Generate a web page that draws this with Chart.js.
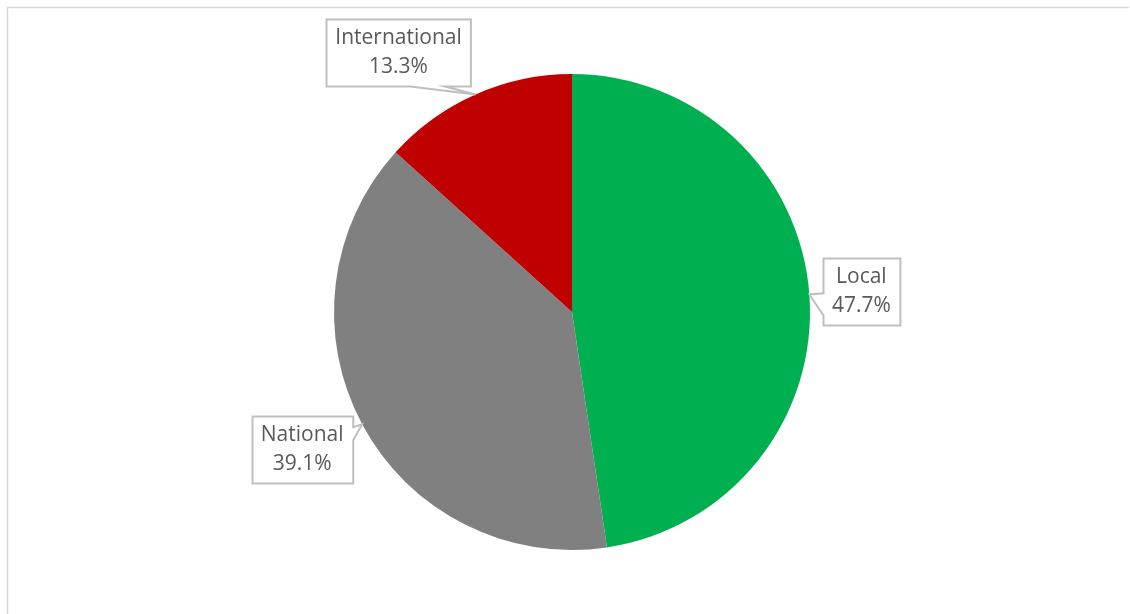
<!DOCTYPE html>
<html>
<head>
<meta charset="utf-8">
<script src="https://cdn.jsdelivr.net/npm/chart.js@4/dist/chart.umd.min.js"></script>
<style>
    html, body { margin: 0; padding: 0; background: #fff; }
    #wrap { width: 1130px; height: 614px; position: relative; }
</style>
</head>
<body>
<div id="wrap"><canvas id="chart"></canvas></div>
<script>
const categories = ['Local', 'National', 'International'];
const shares = [47.7, 39.1, 13.3];

const sliceColors = ['#00B050', '#808080', '#C00000'];

// callout placement per slice: box centre offset from the arc tip, side the pointer leaves from,
// and where along that side the pointer base sits (fractions)
const callouts = [
    { dx: 52, dy: -3, side: 'left', base: [0.52, 0.85] },
    { dx: -60, dy: 25, side: 'right', base: [0.16, 0.35] },
    { dx: -77, dy: -42, side: 'bottom', base: [0.58, 0.82] }
];

const labelFont = '21px "Open Sans", Lato, sans-serif';

const framePlugin = {
    id: 'frame',
    beforeDraw(chart) {
        const ctx = chart.ctx;
        ctx.save();
        ctx.strokeStyle = '#d9d9d9';
        ctx.lineWidth = 1.5;
        ctx.beginPath();
        ctx.moveTo(7.5, chart.height);
        ctx.lineTo(7.5, 7.5);
        ctx.lineTo(1129, 7.5);
        ctx.stroke();
        ctx.restore();
    }
};

function calloutPath(ctx, x0, y0, w, h, tip, c) {
    const x1 = x0 + w, y1 = y0 + h;
    ctx.beginPath();
    ctx.moveTo(x0, y0);
    if (c.side === 'top') {
        ctx.lineTo(x0 + w * c.base[0], y0);
        ctx.lineTo(tip.x, tip.y);
        ctx.lineTo(x0 + w * c.base[1], y0);
    }
    ctx.lineTo(x1, y0);
    if (c.side === 'right') {
        ctx.lineTo(x1, y0 + h * c.base[0]);
        ctx.lineTo(tip.x, tip.y);
        ctx.lineTo(x1, y0 + h * c.base[1]);
    }
    ctx.lineTo(x1, y1);
    if (c.side === 'bottom') {
        ctx.lineTo(x0 + w * c.base[1], y1);
        ctx.lineTo(tip.x, tip.y);
        ctx.lineTo(x0 + w * c.base[0], y1);
    }
    ctx.lineTo(x0, y1);
    if (c.side === 'left') {
        ctx.lineTo(x0, y0 + h * c.base[1]);
        ctx.lineTo(tip.x, tip.y);
        ctx.lineTo(x0, y0 + h * c.base[0]);
    }
    ctx.closePath();
}

const calloutPlugin = {
    id: 'callouts',
    afterDatasetsDraw(chart) {
        const ctx = chart.ctx;
        const meta = chart.getDatasetMeta(0);
        ctx.save();
        ctx.font = labelFont;
        meta.data.forEach((arc, i) => {
            const p = arc.getProps(['x', 'y', 'startAngle', 'endAngle', 'outerRadius'], true);
            const mid = (p.startAngle + p.endAngle) / 2;
            const tip = {
                x: p.x + Math.cos(mid) * p.outerRadius,
                y: p.y + Math.sin(mid) * p.outerRadius
            };
            const c = callouts[i];
            const line1 = categories[i];
            const line2 = shares[i].toFixed(1) + '%';
            const tw = Math.max(ctx.measureText(line1).width, ctx.measureText(line2).width);
            const w = tw + 18;
            const h = 67;
            const cx = tip.x + c.dx, cy = tip.y + c.dy;
            const x0 = Math.round(cx - w / 2) + 0.5, y0 = Math.round(cy - h / 2) + 0.5;

            calloutPath(ctx, x0, y0, w, h, tip, c);
            ctx.fillStyle = '#ffffff';
            ctx.fill();
            ctx.strokeStyle = '#bfbfbf';
            ctx.lineWidth = 2;
            ctx.stroke();

            ctx.fillStyle = '#595959';
            ctx.textAlign = 'center';
            ctx.textBaseline = 'middle';
            ctx.fillText(line1, cx, cy - 14);
            ctx.fillText(line2, cx, cy + 15);
        });
        ctx.restore();
    }
};

new Chart(document.getElementById('chart').getContext('2d'), {
    type: 'pie',
    data: {
        labels: categories,
        datasets: [{
            data: shares,
            backgroundColor: sliceColors,
            borderWidth: 0
        }]
    },
    options: {
        responsive: true,
        maintainAspectRatio: false,
        animation: false,
        layout: { padding: { left: 100, right: 86, top: 74, bottom: 64 } },
        plugins: {
            legend: { display: false },
            tooltip: { enabled: false }
        }
    },
    plugins: [framePlugin, calloutPlugin]
});
</script>
</body>
</html>
